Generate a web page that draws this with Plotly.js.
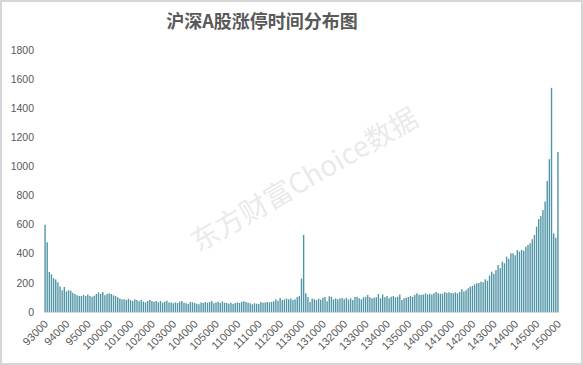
<!DOCTYPE html>
<html>
<head>
<meta charset="utf-8">
<script src="https://cdn.plot.ly/plotly-3.0.1.min.js"></script>
<style>
  html, body { margin: 0; padding: 0; background: #fff; }
  #wrap { position: relative; width: 583px; height: 365px; }
  #chart { width: 583px; height: 365px; }
  #frame { position: absolute; left: 0; top: 0; width: 583px; height: 365px;
           box-sizing: border-box; border: 2px solid #d6d6d6; pointer-events: none; }
</style>
</head>
<body>
<div id="wrap">
  <div id="chart"></div>
  <div id="frame"></div>
</div>
<script>
// Limit-up counts per minute, morning session 9:30 - 11:30
const morningCounts = [
  600, 480, 275, 258, 232, 224, 205, 175, 150, 172,
  142, 150, 146, 133, 124, 115, 110, 110, 117, 110,
  121, 110, 105, 112, 124, 135, 124, 137, 115, 124,
  128, 124, 115, 110, 101, 92, 87, 87, 82, 92,
  82, 76, 87, 82, 73, 82,
  71, 66, 76, 82, 76, 71, 76, 66, 76, 64,
  71, 78, 66, 66, 60, 66, 62, 71, 76, 64,
  60, 55, 69, 66, 62, 57, 53, 66, 62, 69,
  64, 69, 76, 60, 66, 71, 62, 73, 64, 62,
  57, 64, 55, 62, 66, 62, 71, 73, 69, 64,
  60, 53, 60, 57, 55, 69, 64, 66, 69, 66,
  69, 73, 87, 78, 96, 82, 87, 92, 87, 92,
  82, 87, 103, 110, 230
];

// Limit-up counts per minute, afternoon session 13:01 - 15:00
const afternoonCounts = [
  530,
  128, 103, 69, 92, 87, 82, 92, 85, 98, 103, 73, 108, 105, 87, 92, 87, 92, 96, 87, 98, 85, 94, 82, 103,
  105, 94, 87, 101, 105, 117, 101, 94, 98, 101,
  124, 94, 121, 101, 110, 94, 105, 110, 101, 105,
  121, 82, 94, 98, 103, 110, 105, 117, 128, 119,
  119, 121, 128, 121, 126, 121, 128, 137, 128, 126,
  126, 137, 130, 135, 130, 128, 135, 128, 137, 156,
  140,
  150, 163, 174, 180, 190, 197, 200, 208, 204, 225,
  215, 250, 277, 262, 288, 323, 300, 346, 335, 380,
  365, 403, 403, 390, 426, 415, 426, 420, 449, 460,
  472, 500, 529, 586, 639, 660, 700, 760, 900, 1050,
  1540, 540, 510, 1100
];

// Axis labels shown every ten minutes
const tickLabels = [
  '93000', '94000', '95000', '100000', '101000', '102000', '103000', '104000',
  '105000', '110000', '111000', '112000', '113000', '131000', '132000', '133000',
  '134000', '135000', '140000', '141000', '142000', '143000', '144000', '145000', '150000'
];

// Minute stamps written as HMMSS, e.g. 9:30 -> "93000"
function minuteStamps(hour, minute, count) {
  const out = [];
  for (let k = 0; k < count; k++) {
    const t = hour * 60 + minute + k;
    const h = Math.floor(t / 60), m = t % 60;
    out.push(String(h) + String(m).padStart(2, '0') + '00');
  }
  return out;
}

const times = minuteStamps(9, 30, morningCounts.length)
  .concat(minuteStamps(13, 1, afternoonCounts.length));
const counts = morningCounts.concat(afternoonCounts);

const xFont = { family: 'Liberation Sans, Arial, sans-serif', size: 11, color: '#595959' };
const yFont = { family: 'Liberation Sans, Arial, sans-serif', size: 10.5, color: '#595959' };

const trace = {
  type: 'bar',
  x: times,
  y: counts,
  marker: { color: '#5095a6', line: { width: 0 } },
  hoverinfo: 'x+y'
};

const layout = {
  width: 583,
  height: 365,
  margin: { l: 44, r: 24, t: 50, b: 53 },
  paper_bgcolor: '#ffffff',
  plot_bgcolor: '#ffffff',
  bargap: 0.35,
  showlegend: false,
  title: {
    text: '沪深A股涨停时间分布图',
    font: { family: 'Noto Sans CJK SC, sans-serif', size: 18, color: '#595959', weight: 'bold' },
    x: 262 / 583, xref: 'container', xanchor: 'center',
    y: 1 - 22 / 365, yref: 'container', yanchor: 'middle'
  },
  xaxis: {
    type: 'category',
    tickmode: 'array',
    tickvals: tickLabels,
    ticktext: tickLabels,
    tickangle: -45,
    tickfont: xFont,
    showgrid: false,
    showline: true,
    linecolor: '#d9d9d9',
    linewidth: 1,
    ticks: '',
    zeroline: false,
    fixedrange: true
  },
  yaxis: {
    range: [0, 1800],
    dtick: 200,
    tick0: 0,
    tickfont: yFont,
    showgrid: false,
    zeroline: false,
    showline: false,
    ticks: '',
    ticklabelstandoff: 9,
    fixedrange: true
  },
  annotations: [{
    text: '东方财富Choice数据',
    xref: 'paper', yref: 'paper',
    x: (303 - 44) / (583 - 44 - 24),
    y: (312 - 178) / 262,
    showarrow: false,
    textangle: -30,
    font: { family: 'Noto Sans CJK SC, sans-serif', size: 28, color: 'rgba(200,200,200,0.4)' }
  }]
};

Plotly.newPlot('chart', [trace], layout, { displayModeBar: false, staticPlot: true });
</script>
</body>
</html>
